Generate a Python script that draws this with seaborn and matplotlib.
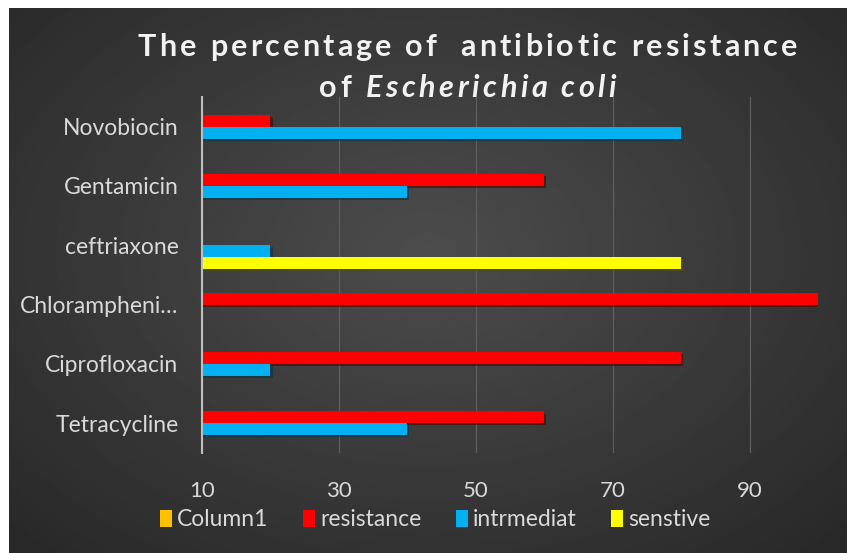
import numpy as np
import pandas as pd
import matplotlib
matplotlib.use("Agg")
import matplotlib.pyplot as plt
import matplotlib.patheffects as pe
import seaborn as sns

# data
drugs = ["Novobiocin", "Gentamicin", "ceftriaxone", "Chlorampheni\u2026",
         "Ciprofloxacin", "Tetracycline"]
series = ["Column1", "resistance", "intrmediat", "senstive"]
column1 = [0, 0, 0, 0, 0, 0]
resistance = [20, 60, 0, 100, 80, 60]
intrmediat = [80, 40, 20, 0, 20, 40]
senstive = [0, 0, 80, 0, 0, 0]
colors = ["#FFC000", "#FF0000", "#00B0F0", "#FFFF00"]

df = pd.DataFrame({"drug": drugs * 4,
                   "series": np.repeat(series, len(drugs)),
                   "value": column1 + resistance + intrmediat + senstive})

sns.set_theme(style="dark")
plt.rcParams["font.family"] = ["Lato", "DejaVu Sans"]

W, H = 847, 553
fig = plt.figure(figsize=(W / 100, H / 100), dpi=100, facecolor="white")

# dark radial background (image starts a few px in from top/left)
bg = fig.add_axes([9 / W, 0, 1 - 9 / W, 1 - 8 / H])
yy, xx = np.mgrid[0:1:300j, 0:1:450j]
r = np.sqrt(((xx - 0.5) / 0.75) ** 2 + ((yy - 0.45) / 0.8) ** 2)
shade = 0.30 - 0.15 * np.clip(r, 0, 1)
bg.imshow(shade, cmap="gray", vmin=0, vmax=1, aspect="auto",
          extent=[0, 1, 0, 1], interpolation="bilinear")
bg.set_axis_off()

ax = fig.add_axes([202 / W, 1 - 453 / H, (818 - 202) / W, (453 - 97) / H])
ax.patch.set_alpha(0)
sns.barplot(data=df, y="drug", x="value", hue="series", hue_order=series,
            palette=colors, orient="h", width=0.8, saturation=1,
            errorbar=None, linewidth=0, ax=ax)

for p in ax.patches:
    p.set_path_effects([pe.SimplePatchShadow(offset=(1.5, -1.5), alpha=0.6),
                        pe.Normal()])

ax.set_xlim(10, 100)
ax.set_xticks([10, 30, 50, 70, 90])
ax.set_xlabel("")
ax.set_ylabel("")
ax.grid(axis="x", color="#5e5e5e", linewidth=0.9)
ax.grid(axis="y", visible=False)
for s in ["top", "right", "bottom"]:
    ax.spines[s].set_visible(False)
ax.spines["left"].set_color("#bfbfbf")
ax.spines["left"].set_linewidth(1.5)
ax.tick_params(axis="x", colors="#d9d9d9", labelsize=16, length=0, pad=20)
ax.tick_params(axis="y", colors="#d9d9d9", labelsize=16.5, length=0, pad=17)

sns.move_legend(ax, "center", bbox_to_anchor=(435 / W, 1 - 520 / H),
                bbox_transform=fig.transFigure, ncol=4, frameon=False,
                title=None, fontsize=16.5, handlelength=0.55,
                handleheight=0.75, handletextpad=0.2, columnspacing=1.5)
for t in ax.get_legend().get_texts():
    t.set_color("#d9d9d9")

# title with widened letter spacing, like the original
renderer = fig.canvas.get_renderer()


def advance(ch, **kw):
    t1 = fig.text(0, 0, "x" + ch + "x", **kw)
    t2 = fig.text(0, 0, "xx", **kw)
    w = t1.get_window_extent(renderer).width - t2.get_window_extent(renderer).width
    t1.remove()
    t2.remove()
    return w


def spaced_title(parts, xc, ybase, width):
    chars = []
    for text, style in parts:
        kw = dict(fontsize=22, fontweight="bold", fontstyle=style)
        for ch in text:
            chars.append((ch, kw, advance(ch, **kw)))
    gap = (width - sum(c[2] for c in chars)) / (len(chars) - 1)
    x = xc - width / 2
    for ch, kw, w in chars:
        if ch != " ":
            fig.text(x / W, 1 - ybase / H, ch, ha="left", va="baseline",
                     color="#f2f2f2", **kw)
        x += w + gap


spaced_title([("The percentage of  antibiotic resistance", "normal")],
             467.5, 56, 659)
spaced_title([("of ", "normal"), ("Escherichia coli", "italic")],
             467.5, 97, 297)

fig.savefig("out.png", dpi=100, facecolor="white")
